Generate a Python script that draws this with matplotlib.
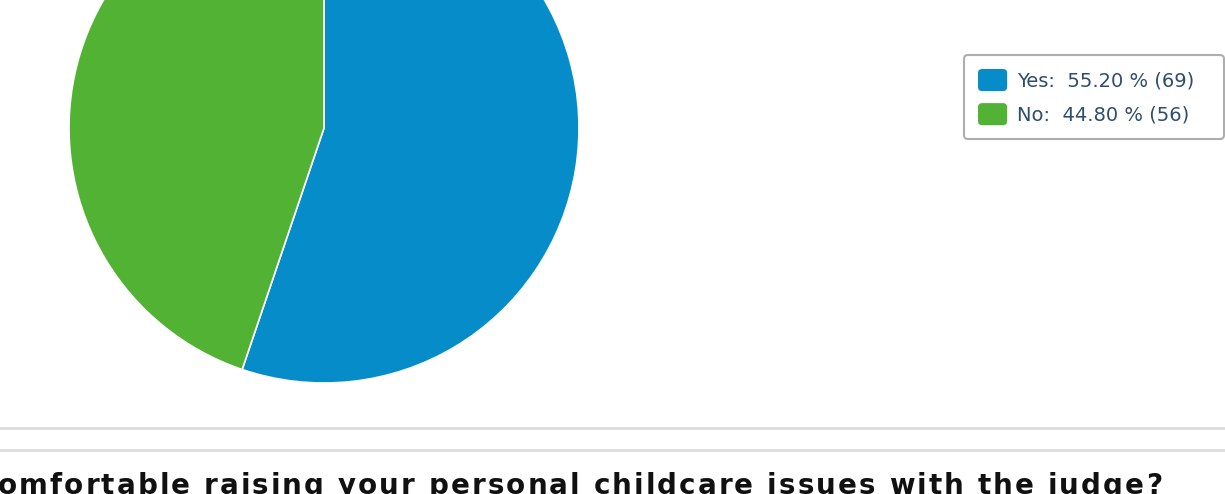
import matplotlib.pyplot as plt
from matplotlib.font_manager import FontProperties, findfont, get_font
from matplotlib.patches import FancyBboxPatch
from matplotlib.legend_handler import HandlerPatch

# data
labels = ['Yes', 'No']
counts = [69, 56]
colors = ['#068DC9', '#52B233']
question = 'comfortable raising your personal childcare issues with the judge?'

W, H = 1225, 494
fig = plt.figure(figsize=(W / 100, H / 100), dpi=100)
ax = fig.add_axes([0, 0, 1, 1])

total = sum(counts)
wedges, _ = ax.pie(counts, colors=colors, startangle=90, counterclock=False,
                   center=(324, H - 128), radius=255,
                   wedgeprops=dict(edgecolor='white', linewidth=1.2))
ax.set_xlim(0, W)
ax.set_ylim(0, H)
ax.set_aspect('auto')
ax.axis('off')


# rounded legend swatches
def rounded_swatch(legend, orig_handle, xdescent, ydescent, width, height, fontsize):
    return FancyBboxPatch((-xdescent, -ydescent), width, height,
                          boxstyle='round,pad=0,rounding_size=3')


leg_labels = [f'{l}:  {c / total * 100:.2f} % ({c})' for l, c in zip(labels, counts)]
leg = fig.legend(wedges, leg_labels, loc='upper left', mode='expand',
                 bbox_to_anchor=(964 / W, 1 - 138 / H, 260 / W, 83 / H),
                 fontsize=14, labelcolor='#2E4D6E', frameon=True, fancybox=True,
                 edgecolor='#9A9A9A', handlelength=1.5, handleheight=1.37,
                 handletextpad=0.5, labelspacing=0.62, borderpad=0.72,
                 borderaxespad=0,
                 handler_map={wedges[0].__class__: HandlerPatch(patch_func=rounded_swatch)})
leg.get_frame().set_linewidth(1.5)
for h in leg.legend_handles:
    h.set_edgecolor('none')

# separator lines
for y in [428, 450]:
    ax.plot([0, W], [H - y, H - y], color='#DDDDDD', lw=2)

# cut-off question text, drawn with letter spacing
fs = 20
fp = FontProperties(weight='bold', size=fs)
font = get_font(findfont(fp))
font.set_size(fs, 100)
adv = []
for ch in question:
    g = font.load_char(ord(ch))
    adv.append(g.linearHoriAdvance / 65536)
x0, x1 = -21, 1162
track = (x1 - x0 - sum(adv)) / (len(question) - 1)
x = x0
for ch, a in zip(question, adv):
    ax.text(x, H - 472, ch, ha='left', va='top', fontproperties=fp,
            color='#111111')
    x += a + track

plt.savefig('out.png', dpi=100)
